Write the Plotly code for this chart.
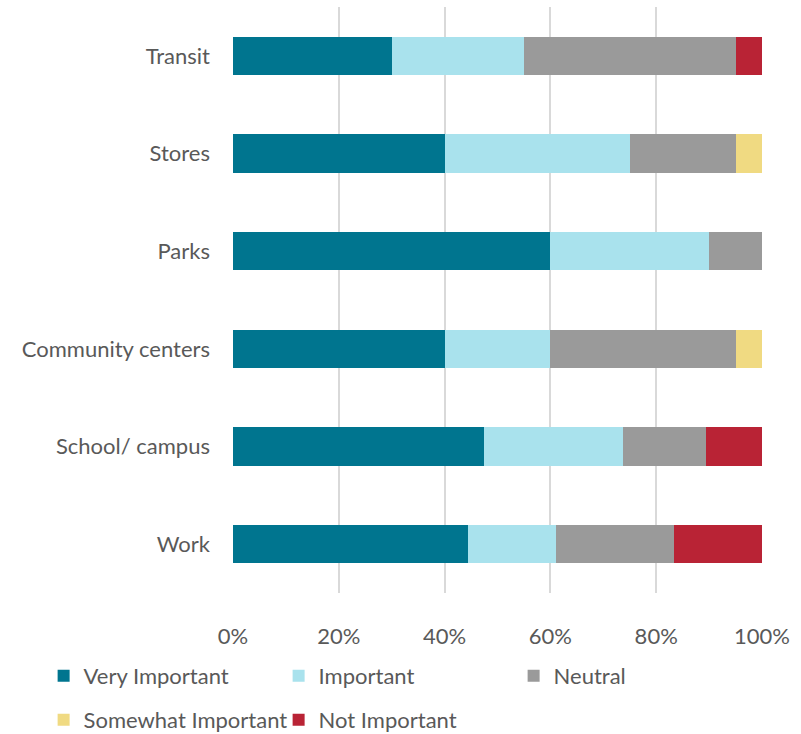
import plotly.graph_objects as go

categories = ["Work", "School/ campus", "Community centers", "Parks", "Stores", "Transit"]
very_important = [44.4, 47.4, 40, 60, 40, 30]
important = [16.7, 26.3, 20, 30, 35, 25]
neutral = [22.2, 15.8, 35, 10, 20, 40]
somewhat_important = [0, 0, 5, 0, 5, 0]
not_important = [16.7, 10.5, 0, 0, 0, 5]
tick_vals = [0, 20, 40, 60, 80, 100]
tick_text = ["0%", "20%", "40%", "60%", "80%", "100%"]

series = [
    ("Very Important", very_important, "#00758F", "legend"),
    ("Important", important, "#A9E2ED", "legend"),
    ("Neutral", neutral, "#9A9A9A", "legend"),
    ("Somewhat Important", somewhat_important, "#F0DA82", "legend2"),
    ("Not Important", not_important, "#B92335", "legend2"),
]

FONT = "Lato, Open Sans, sans-serif"
TXT = "#595959"

fig = go.Figure()
for name, vals, color, lg in series:
    fig.add_trace(go.Bar(
        y=categories, x=vals, name=name, orientation="h",
        marker=dict(color=color, line=dict(width=0)),
        legend=lg,
    ))

legend_common = dict(
    orientation="h", x=-0.358, xanchor="left", yanchor="middle",
    entrywidth=190, entrywidthmode="pixels", itemwidth=30,
    font=dict(family=FONT, size=22, color=TXT), traceorder="normal",
    bgcolor="rgba(0,0,0,0)",
)

fig.update_layout(
    barmode="stack",
    bargap=0.61,
    width=801, height=734,
    margin=dict(l=233, r=39, t=7, b=141, autoexpand=False),
    paper_bgcolor="white", plot_bgcolor="white",
    font=dict(family=FONT, size=22, color=TXT),
    xaxis=dict(
        range=[0, 100], tickvals=tick_vals, ticktext=tick_text,
        showgrid=True, gridcolor="#D9D9D9", gridwidth=2,
        zeroline=False, showline=False, ticks="",
        ticklabelstandoff=28,
        tickfont=dict(family=FONT, size=22, color=TXT),
    ),
    yaxis=dict(
        showgrid=False, zeroline=False, showline=False, ticks="",
        ticklabelstandoff=22,
        tickfont=dict(family=FONT, size=22, color=TXT),
    ),
    legend=dict(y=-0.1416, **legend_common),
    legend2=dict(y=-0.2167, **legend_common),
    showlegend=True,
)

fig.write_html("out.html")
